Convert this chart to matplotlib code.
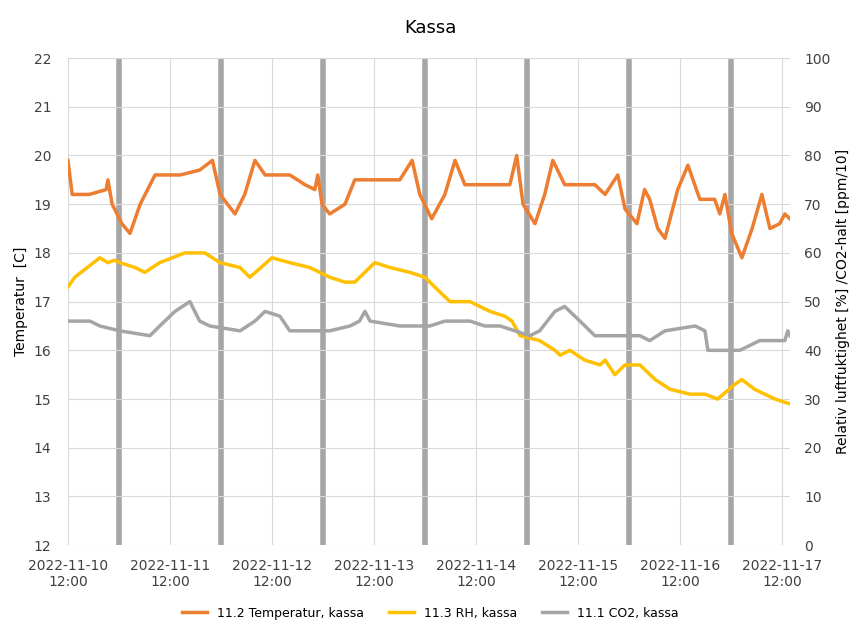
import matplotlib.pyplot as plt
import numpy as np
from matplotlib.lines import Line2D

# hours after 2022-11-10 12:00
temp_h = [0, 1, 5, 9, 9.4, 10.4, 12.7, 14.6, 17, 20.5, 26.4, 31, 34, 35.8, 39.3, 41.6, 44, 46.4, 52.2,
          55.8, 58.1, 58.8, 59.8, 61.6, 65.2, 67.5, 78.1, 81, 82.8, 85.6, 88.7, 91.1, 93.4, 104, 105.6,
          107.1, 109.9, 112.2, 114.1, 116.9, 124, 126.4, 129.4, 131.1, 133.9, 135.7, 136.9, 138.8, 140.5,
          143.5, 145.9, 148.7, 152.2, 153.4, 154.6, 156.2, 158.6, 161, 163.3, 165.2, 167.5, 168.7, 169.9]
temp_v = [19.9, 19.2, 19.2, 19.3, 19.5, 19.0, 18.6, 18.4, 19.0, 19.6, 19.6, 19.7, 19.9, 19.2, 18.8, 19.2,
          19.9, 19.6, 19.6, 19.4, 19.3, 19.6, 19.0, 18.8, 19.0, 19.5, 19.5, 19.9, 19.2, 18.7, 19.2, 19.9,
          19.4, 19.4, 20.0, 19.0, 18.6, 19.2, 19.9, 19.4, 19.4, 19.2, 19.6, 18.9, 18.6, 19.3, 19.1, 18.5,
          18.3, 19.3, 19.8, 19.1, 19.1, 18.8, 19.2, 18.4, 17.9, 18.5, 19.2, 18.5, 18.6, 18.8, 18.7]

rh_h = [0, 1.6, 7.5, 9.4, 11, 12.2, 15.8, 18.1, 21.6, 27.5, 32.2, 35.8, 40.5, 42.8, 48, 52.2, 56.9, 61.6,
        65.2, 67.5, 72.2, 75.8, 80.5, 84, 87.5, 89.9, 94.6, 99.3, 102.8, 104.5, 106.4, 111, 114.6, 115.8,
        118.1, 121.6, 125.2, 126.4, 128.7, 131.1, 134.6, 138.2, 141.7, 146.4, 149.9, 152.9, 156.9, 158.6,
        161.6, 166.4, 169.9]
rh_v = [53, 55, 59, 58, 58.5, 58, 57, 56, 58, 60, 60, 58, 57, 55, 59, 58, 57, 55, 54, 54, 58, 57, 56, 55,
        52, 50, 50, 48, 47, 46, 43, 42, 40, 39, 40, 38, 37, 38, 35, 37, 37, 34, 32, 31, 31, 30, 33, 34,
        32, 30, 29]

co2_h = [0, 5.2, 7.5, 12.2, 19.3, 21.6, 25.2, 28.7, 31, 33.4, 40.5, 44, 46.4, 49.9, 52.2, 61.6, 66.4,
         68.6, 69.9, 71.1, 78.1, 85.2, 88.7, 94.6, 98.1, 101.7, 108.7, 111, 114.6, 116.9, 120.5, 124,
         134.6, 136.9, 140.5, 147.6, 149.9, 150.6, 158.1, 162.8, 168.7, 169.4, 169.9]
co2_v = [46, 46, 45, 44, 43, 45, 48, 50, 46, 45, 44, 46, 48, 47, 44, 44, 45, 46, 48, 46, 45, 45, 46, 46,
         45, 45, 43, 44, 48, 49, 46, 43, 43, 42, 44, 45, 44, 40, 40, 42, 42, 44, 43]

tick_labels = ['2022-11-10\n12:00', '2022-11-11\n12:00', '2022-11-12\n12:00', '2022-11-13\n12:00',
               '2022-11-14\n12:00', '2022-11-15\n12:00', '2022-11-16\n12:00', '2022-11-17\n12:00']

fig = plt.figure(figsize=(8.6, 6.31), dpi=100)
ax = fig.add_axes([0.079, 0.136, 0.84, 0.772])
ax2 = ax.twinx()

ax.set_xlim(0, 170)
ax.set_ylim(12, 22)
ax2.set_ylim(0, 100)
ax.set_yticks(range(12, 23))
ax2.set_yticks(range(0, 101, 10))
ax.set_xticks(np.arange(0, 169, 24))
ax.set_xticklabels(tick_labels)
ax.grid(axis='both', color='#d9d9d9', lw=0.8)
for d in range(7):
    ax.axvline(12 + 24 * d, color='#a6a6a6', lw=4, zorder=1)

ax.plot(temp_h, temp_v, color='#ed7d31', lw=2.5, zorder=3)
ax2.plot(rh_h, rh_v, color='#ffc000', lw=2.5)
ax2.plot(co2_h, co2_v, color='#a5a5a5', lw=2.5)

for a in (ax, ax2):
    for s in a.spines.values():
        s.set_visible(False)
    a.tick_params(length=0, labelsize=10, colors='#404040')
ax.tick_params(axis='x', pad=10)
ax.tick_params(axis='y', pad=12)
ax2.tick_params(axis='y', pad=10)

ax.set_ylabel('Temperatur  [C]', fontsize=10)
ax2.set_ylabel('Relativ luftfuktighet [%] /CO2-halt [ppm/10]', fontsize=10)
fig.suptitle('Kassa', fontsize=13, y=0.97)

handles = [Line2D([], [], color='#ed7d31', lw=2.5), Line2D([], [], color='#ffc000', lw=2.5),
           Line2D([], [], color='#a5a5a5', lw=2.5)]
fig.legend(handles, ['11.2 Temperatur, kassa', '11.3 RH, kassa', '11.1 CO2, kassa'], loc='lower center',
           ncol=3, frameon=False, fontsize=9, bbox_to_anchor=(0.5, 0.0))

fig.savefig('out.png')
